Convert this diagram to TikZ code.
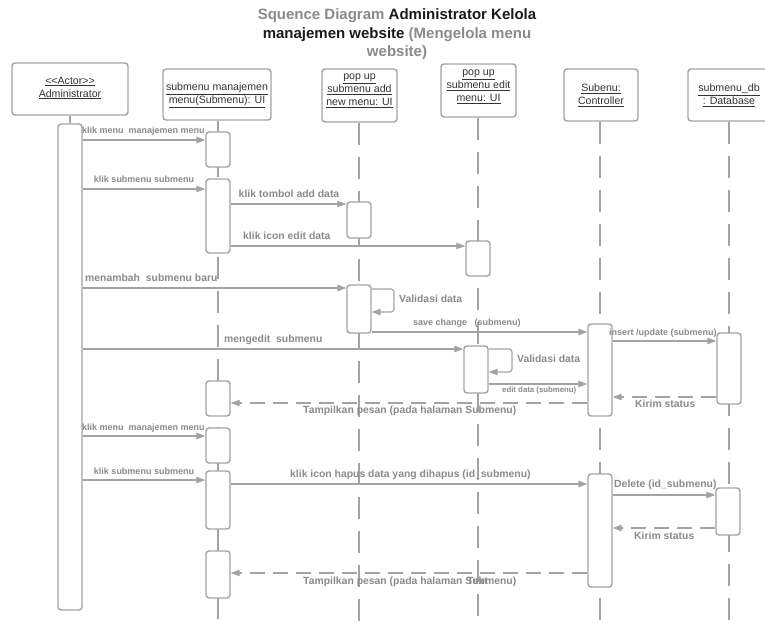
\documentclass[tikz,border=0pt]{standalone}
\usepackage{fontspec}
\setmainfont{Liberation Sans}
\usetikzlibrary{arrows.meta}
\definecolor{linegray}{HTML}{A3A3A3}
\definecolor{labelgray}{HTML}{8A8A8A}
\definecolor{boxtext}{HTML}{333333}
\definecolor{titledark}{HTML}{1A1A1A}

\begin{document}
\begin{tikzpicture}[x=1pt,y=-1pt,
  headbox/.style={draw=linegray, line width=1.4pt, rounded corners=3pt, fill=white, inner sep=0pt},
  headtext/.style={text=boxtext, font=\fontsize{10.6}{13}\selectfont, align=center, inner sep=0pt},
  act/.style={draw=linegray, line width=1.4pt, rounded corners=3pt, fill=white, minimum width=24pt, inner sep=0pt},
  lifeline/.style={draw=linegray, line width=1.3pt, dash pattern=on 22pt off 12pt},
  msg/.style={draw=linegray, line width=1.2pt, -{Triangle[length=9pt,width=6.5pt]}},
  ret/.style={msg, dash pattern=on 15pt off 8pt},
  biglabel/.style={text=labelgray, font=\bfseries\fontsize{10.4}{12}\selectfont, inner sep=0pt, anchor=base west},
  smalllabel/.style={biglabel, font=\bfseries\fontsize{9}{11}\selectfont},
  tinylabel/.style={biglabel, font=\bfseries\fontsize{7.8}{9}\selectfont},
  titleline/.style={font=\bfseries\fontsize{15}{18}\selectfont, inner sep=0pt, anchor=base}
]
\useasboundingbox (0,0) rectangle (765,623);
\clip (0,0) rectangle (765,623);

% title
\node[titleline] (title1) at (397,20) {\textcolor{labelgray}{Squence Diagram} \textcolor{titledark}{Administrator Kelola}};
\node[titleline] (title2) at (397,38.5) {\textcolor{titledark}{manajemen website} \textcolor{labelgray}{(Mengelola menu}};
\node[titleline] (title3) at (397,57) {\textcolor{labelgray}{website)}};

% participant heads
\node[headbox, minimum width=116pt, minimum height=52pt] (hAdm) at (70,89) {};
\node[headbox, minimum width=108pt, minimum height=51pt] (hSub) at (217,94.5) {};
\node[headbox, minimum width=75pt, minimum height=53pt] (hPa) at (359.5,95.5) {};
\node[headbox, minimum width=75pt, minimum height=53pt] (hPe) at (478.5,90.5) {};
\node[headbox, minimum width=74pt, minimum height=52pt] (hC) at (601,95) {};
\node[headbox, minimum width=82pt, minimum height=52pt] (hD) at (729,95) {};

\node[headtext] (tAdm) at (70,88) {\underline{<\kern0pt<Actor>\kern0pt>}\\\underline{Administrator}};
\node[headtext] (tSub) at (217,95) {\underline{submenu manajemen}\\\underline{menu(Submenu): UI}};
\node[headtext] (tPa) at (359.5,91) {\underline{pop up}\\\underline{submenu add}\\\underline{new menu: UI}};
\node[headtext] (tPe) at (478.5,86.5) {\underline{pop up}\\\underline{submenu edit}\\\underline{menu: UI}};
\node[headtext] (tC) at (601,95) {\underline{Subenu:}\\\underline{Controller}};
\node[headtext] (tD) at (729,95) {\underline{submenu\_db}\\\underline{: Database}};

% lifeline ends
\coordinate (eSub) at (218,623);
\coordinate (ePa) at (359,623);
\coordinate (ePe) at (478,623);
\coordinate (eC) at (600,623);
\coordinate (eD) at (729,623);

\draw[lifeline] (hSub.south -| eSub) -- (eSub);
\draw[lifeline] (hPa.south -| ePa) -- (ePa);
\draw[lifeline] (hPe.south -| ePe) -- (ePe);
\draw[lifeline] (hC.south -| eC) -- (eC);
\draw[lifeline] (hD.south -| eD) -- (eD);

% activations
\node[act, minimum height=486pt] (aAdm) at (70,367) {};
\draw[draw=linegray, line width=1.3pt] (hAdm.south) -- (aAdm.north);
\node[act, minimum height=35pt] (s1) at (218,149.5) {};
\node[act, minimum height=74pt] (s2) at (218,216) {};
\node[act, minimum height=35pt] (s3) at (218,398.5) {};
\node[act, minimum height=35pt] (s4) at (218,445.5) {};
\node[act, minimum height=58pt] (s5) at (218,500) {};
\node[act, minimum height=47pt] (s6) at (218,574.5) {};
\node[act, minimum height=36pt] (pa1) at (359,220) {};
\node[act, minimum height=48pt] (pa2) at (359,309) {};
\node[act, minimum height=35pt] (pe1) at (478,258.5) {};
\node[act, minimum height=47pt] (pe2) at (476,369.5) {};
\node[act, minimum height=92pt] (c1) at (600,370) {};
\node[act, minimum height=113pt] (c2) at (600,530.5) {};
\node[act, minimum height=71pt] (d1) at (729,368.5) {};
\node[act, minimum height=47pt] (d2) at (728,511.5) {};

% messages
\draw[msg] (aAdm.east |- 0,140) -- (s1.west |- 0,140);
\node[smalllabel] (m1) at (82,134) {klik menu\ \ manajemen menu};

\draw[msg] (aAdm.east |- 0,189) -- (s2.west |- 0,189);
\node[smalllabel, anchor=base] (m2) at (144,182) {klik submenu submenu};

\draw[msg] (s2.east |- 0,204) -- (pa1.west |- 0,204);
\node[biglabel, anchor=base] (m3) at (289,197.5) {klik tombol add data};

\draw[msg] (s2.east |- 0,246) -- (pe1.west |- 0,246);
\node[biglabel] (m4) at (243,239.5) {klik icon edit data};

\draw[msg] (aAdm.east |- 0,288) -- (pa2.west |- 0,288);
\node[biglabel] (m5) at (85,281.5) {menambah\ \ submenu baru};

\coordinate (loopPa) at (394,300);
\draw[msg, rounded corners=3pt] (pa2.east |- 0,289) -| (loopPa) |- (pa2.east |- 0,312);
\node[biglabel] (m6) at (399,302.5) {Validasi data};

\draw[msg] (pa2.east |- 0,332) -- (c1.west |- 0,332);
\node[smalllabel] (m7) at (413,325) {save change\ \ \ (submenu)};

\draw[msg] (c1.east |- 0,341) -- (d1.west |- 0,341);
\node[smalllabel] (m8) at (609,335) {insert /update (submenu)};

\draw[msg] (aAdm.east |- 0,349) -- (pe2.west |- 0,349);
\node[biglabel] (m9) at (224,342.5) {mengedit\ \ submenu};

\coordinate (loopPe) at (512,360);
\draw[msg, rounded corners=3pt] (pe2.east |- 0,349) -| (loopPe) |- (pe2.east |- 0,372);
\node[biglabel] (m10) at (517,362.5) {Validasi data};

\draw[msg] (pe2.east |- 0,384) -- (c1.west |- 0,384);
\node[tinylabel] (m11) at (502,392.6) {edit data (submenu)};

\draw[ret] (d1.west |- 0,397) -- (c1.east |- 0,397);
\node[biglabel] (m12) at (635,407.5) {Kirim status};

\draw[ret] (c1.west |- 0,403) -- (s3.east |- 0,403);
\node[biglabel] (m13) at (303,413.5) {Tampilkan pesan (pada halaman Submenu)};

\draw[msg] (aAdm.east |- 0,436) -- (s4.west |- 0,436);
\node[smalllabel] (m14) at (82,430) {klik menu\ \ manajemen menu};

\draw[msg] (aAdm.east |- 0,480) -- (s5.west |- 0,480);
\node[smalllabel, anchor=base] (m15) at (144,474) {klik submenu submenu};

\draw[msg] (s5.east |- 0,484) -- (c2.west |- 0,484);
\node[biglabel] (m16) at (290,477.5) {klik icon hapus data yang dihapus (id\_submenu)};

\draw[msg] (c2.east |- 0,495) -- (d2.west |- 0,495);
\node[biglabel] (m17) at (614,487.5) {Delete (id\_submenu)};

\draw[ret] (d2.west |- 0,528) -- (c2.east |- 0,528);
\node[biglabel] (m18) at (634,539.5) {Kirim status};

\draw[ret] (c2.west |- 0,573) -- (s6.east |- 0,573);
\node[biglabel] (m19) at (303,584.5) {Tampilkan pesan (pada halaman Submenu)};
\node[biglabel] (m19b) at (467,584.5) {Text};
\end{tikzpicture}
\end{document}
